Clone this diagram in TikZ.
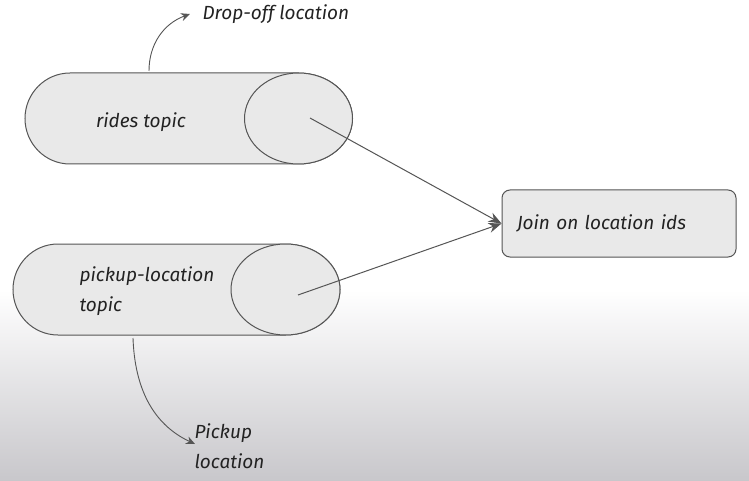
\documentclass[tikz,border=0pt]{standalone}
\usepackage{fontspec}
\setmainfont{Fira Sans}
\usetikzlibrary{shapes.geometric,positioning,arrows.meta}
\definecolor{strokegray}{HTML}{555555}
\definecolor{fillgray}{HTML}{E9E9E9}
\definecolor{bgbottom}{HTML}{C8C7CB}
\definecolor{inkgray}{HTML}{222222}
\tikzset{
  topicbody/.style={draw=strokegray, fill=fillgray, line width=1pt},
  joinbox/.style={rectangle, draw=strokegray, fill=fillgray, line width=1pt, rounded corners=8pt, text width=204pt, inner xsep=15pt, minimum height=67pt, align=left},
  scribble/.style={text=inkgray, font=\fontsize{19}{30}\selectfont\itshape, align=left},
  flow/.style={draw=strokegray, line width=1pt, -{Stealth[length=13pt,width=10pt]}},
  hint/.style={draw=strokegray, line width=0.9pt, -{Stealth[length=9pt,width=8pt]}}
}
\begin{document}
\begin{tikzpicture}[x=1pt, y=-1pt]
  % Background
  \useasboundingbox (0,0) rectangle (749,481);
  \fill[white] (0,0) rectangle (749,481);
  \shade[top color=white, bottom color=bgbottom] (0,290) rectangle (749,481);
  % Topics
  \draw[topicbody] (298.5,73) -- (70,73) arc[start angle=270, end angle=90, x radius=45, y radius=45.5]
    -- (298.5,164) arc[start angle=90, end angle=-90, x radius=54, y radius=45.5] -- cycle;
  \draw[topicbody] (298.5,118.5) ellipse[x radius=54, y radius=45.5];
  \draw[topicbody] (285.5,244) -- (58,244) arc[start angle=270, end angle=90, x radius=45, y radius=45.5]
    -- (285.5,335) arc[start angle=90, end angle=-90, x radius=54.5, y radius=45.5] -- cycle;
  \draw[topicbody] (285.5,289.5) ellipse[x radius=54.5, y radius=45.5];
  \node (ridestxt) [scribble] at (141, 122) {rides topic};
  \node (pickuptxt) [scribble, anchor=west] at (76, 291) {pickup-location\\topic};
  % Join
  \node (join) [joinbox, scribble] at (619, 223.5) {Join on location ids};
  % Labels
  \node (droplbl) [scribble, anchor=west] at (199, 14) {Drop-off location};
  \node (pickuplbl) [scribble, anchor=north west] at (191, 420) {Pickup\\location};
  % Arrows
  \coordinate (ridesend) at (310, 118);
  \coordinate (pickupend) at (298, 295);
  \draw[flow] (ridesend) -- (join.west);
  \draw[flow] (pickupend) -- (join.west);
  \coordinate (dropstart) at (149, 71);
  \coordinate (pickstart) at (133, 338);
  \draw[hint] (dropstart) to[out=90, in=200] ([xshift=-9pt]droplbl.west);
  \draw[hint] (pickstart) to[out=-88, in=155] (195, 444);
\end{tikzpicture}
\end{document}
